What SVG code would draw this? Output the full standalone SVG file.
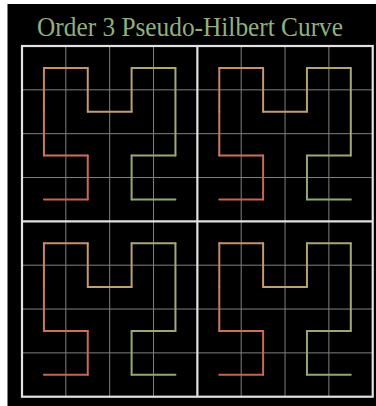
<svg xmlns="http://www.w3.org/2000/svg" xmlns:xlink="http://www.w3.org/1999/xlink" width="376" height="406" viewBox="0 0 376 406">
  <style>
    .title { font-family: "Liberation Serif", "DejaVu Serif", serif; font-size: 26.5px; fill: #93b07c; }
    .grid { stroke: #808080; stroke-width: 1; fill: none; }
    .major { stroke: #e2e2e2; stroke-width: 2.2; fill: none; }
    .seg { stroke-width: 2; stroke-linecap: round; fill: none; }
  </style>
  <defs>
    <g id="curve">
      <line class="seg" x1="21.92" y1="153.44" x2="65.76" y2="153.44" stroke="#c8634d"/>
      <line class="seg" x1="65.76" y1="153.44" x2="65.76" y2="109.6" stroke="#cb6a53"/>
      <line class="seg" x1="65.76" y1="109.6" x2="21.92" y2="109.6" stroke="#cc7058"/>
      <line class="seg" x1="21.92" y1="109.6" x2="21.92" y2="65.76" stroke="#ca7a5f"/>
      <line class="seg" x1="21.92" y1="65.76" x2="21.92" y2="21.92" stroke="#c88566"/>
      <line class="seg" x1="21.92" y1="21.92" x2="65.76" y2="21.92" stroke="#c8906c"/>
      <line class="seg" x1="65.76" y1="21.92" x2="65.76" y2="65.76" stroke="#c89870"/>
      <line class="seg" x1="65.76" y1="65.76" x2="109.6" y2="65.76" stroke="#c09f70"/>
      <line class="seg" x1="109.6" y1="65.76" x2="109.6" y2="21.92" stroke="#b8a172"/>
      <line class="seg" x1="109.6" y1="21.92" x2="153.44" y2="21.92" stroke="#b0a476"/>
      <line class="seg" x1="153.44" y1="21.92" x2="153.44" y2="109.6" stroke="#a6a878"/>
      <line class="seg" x1="153.44" y1="109.6" x2="109.6" y2="109.6" stroke="#9ba874"/>
      <line class="seg" x1="109.6" y1="109.6" x2="109.6" y2="153.44" stroke="#94aa70"/>
      <line class="seg" x1="109.6" y1="153.44" x2="153.44" y2="153.44" stroke="#8cac6c"/>
    </g>
  </defs>
  <rect x="0" y="0" width="376" height="406" fill="#ffffff"/>
  <rect x="7.5" y="4" width="368.5" height="402" fill="#000000"/>
  <text class="title" x="190" y="36" text-anchor="middle" textLength="306" lengthAdjust="spacingAndGlyphs">Order 3 Pseudo-Hilbert Curve</text>
  <g id="grid">
    <line class="grid" x1="65.84" y1="46" x2="65.84" y2="396.72"/>
    <line class="grid" x1="109.68" y1="46" x2="109.68" y2="396.72"/>
    <line class="grid" x1="153.52" y1="46" x2="153.52" y2="396.72"/>
    <line class="grid" x1="241.2" y1="46" x2="241.2" y2="396.72"/>
    <line class="grid" x1="285.04" y1="46" x2="285.04" y2="396.72"/>
    <line class="grid" x1="328.88" y1="46" x2="328.88" y2="396.72"/>
    <line class="grid" x1="22" y1="89.84" x2="372.72" y2="89.84"/>
    <line class="grid" x1="22" y1="133.68" x2="372.72" y2="133.68"/>
    <line class="grid" x1="22" y1="177.52" x2="372.72" y2="177.52"/>
    <line class="grid" x1="22" y1="265.2" x2="372.72" y2="265.2"/>
    <line class="grid" x1="22" y1="309.04" x2="372.72" y2="309.04"/>
    <line class="grid" x1="22" y1="352.88" x2="372.72" y2="352.88"/>
    <line class="major" x1="197.36" y1="46" x2="197.36" y2="396.72"/>
    <line class="major" x1="22" y1="221.36" x2="372.72" y2="221.36"/>
    <rect class="major" x="22" y="46" width="350.72" height="350.72"/>
  </g>
  <g id="curves">
    <use xlink:href="#curve" transform="translate(22,46)"/>
    <use xlink:href="#curve" transform="translate(197.36,46)"/>
    <use xlink:href="#curve" transform="translate(22,221.36)"/>
    <use xlink:href="#curve" transform="translate(197.36,221.36)"/>
  </g>
</svg>
